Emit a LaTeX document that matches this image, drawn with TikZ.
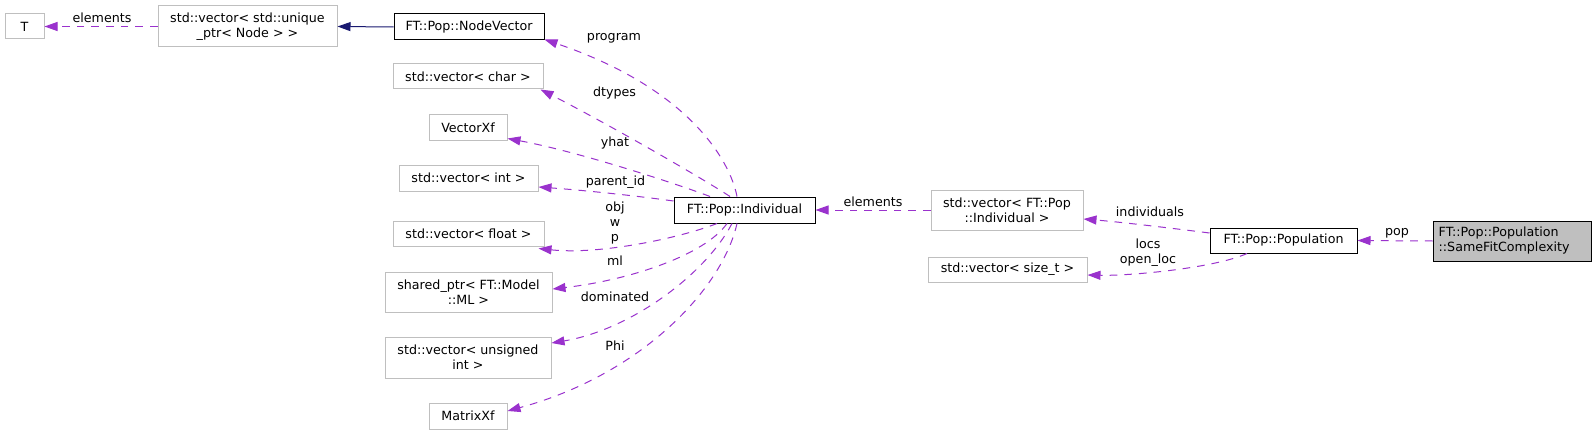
\documentclass[tikz,border=0pt]{standalone}
\usepackage{fontspec}
\setmainfont{DejaVu Sans}
\usetikzlibrary{arrows.meta,calc}
\definecolor{edgepurple}{HTML}{9A32CD}
\definecolor{edgenavy}{HTML}{191970}
\definecolor{boxgray}{HTML}{BFBFBF}
\begin{document}
\begin{tikzpicture}[x=0.75pt,y=-0.75pt,
  font=\fontsize{9.5}{11.25}\selectfont,
  box/.style={draw=boxgray, line width=0.75pt, inner sep=0pt, align=center},
  mainbox/.style={draw=black, line width=0.75pt, inner sep=0pt, align=center},
  edge/.style={draw=edgepurple, line width=0.75pt, dash pattern=on 5.75pt off 5.25pt, -{Triangle[length=9.75pt,width=6.75pt]}, fill=none},
  navyedge/.style={draw=edgenavy, line width=0.75pt, -{Triangle[length=9.75pt,width=6.75pt]}},
  lbl/.style={inner sep=0pt, align=center}]
\useasboundingbox[fill=white] (0,0) rectangle (1596,435);

% nodes
\node[box, minimum width=29.25pt, minimum height=18.75pt] (T) at (24.5,26.5) {T};
\node[box, minimum width=134.25pt, minimum height=30.75pt] (uptr) at (247.5,26.5) {std::vector< std::unique\\\_ptr< Node > >};
\node[mainbox, minimum width=112.5pt, minimum height=19.5pt] (nv) at (469,27) {FT::Pop::NodeVector};
\node[box, minimum width=112.5pt, minimum height=18.75pt] (chr) at (468,76.5) {std::vector< char >};
\node[box, minimum width=58.5pt, minimum height=18.75pt] (vxf) at (468,127.5) {VectorXf};
\node[box, minimum width=104.25pt, minimum height=19.5pt] (vint) at (468.5,178) {std::vector< int >};
\node[box, minimum width=113.25pt, minimum height=18.75pt] (vflt) at (468.5,233.5) {std::vector< float >};
\node[box, minimum width=125.25pt, minimum height=30pt] (sptr) at (468.5,292) {shared\_ptr< FT::Model\\::ML >};
\node[box, minimum width=124.5pt, minimum height=30.75pt] (vuns) at (468,357.5) {std::vector< unsigned\\int >};
\node[box, minimum width=58.5pt, minimum height=19.5pt] (mxf) at (468,416) {MatrixXf};
\node[mainbox, minimum width=105.75pt, minimum height=19.5pt] (ind) at (744.5,210) {FT::Pop::Individual};
\node[box, minimum width=114pt, minimum height=30pt] (vind) at (1007,210) {std::vector< FT::Pop\\::Individual >};
\node[box, minimum width=119.25pt, minimum height=18.75pt] (vsz) at (1007.5,269.5) {std::vector< size\_t >};
\node[mainbox, minimum width=110.25pt, minimum height=18.75pt] (popn) at (1283.5,240.5) {FT::Pop::Population};
\node[mainbox, fill=boxgray, minimum width=118.5pt, minimum height=30pt, align=left, text width=110pt] (sfc) at (1512,241) {FT::Pop::Population\\::SameFitComplexity};

% edges
\draw[edge] (uptr.west) -- (T.east);
\draw[navyedge] (nv.west) -- (uptr.east);
\draw[edge] ($(ind.north)+(-7.5,0)$) .. controls (730,160) and (688,88) .. ($(nv.south east)+(0,-1)$);
\draw[edge] ($(ind.north)+(-14.5,0)$) .. controls (705,180) and (610,125) .. ($(chr.south east)+(-3,0)$);
\draw[edge] ($(ind.north)+(-34.5,0)$) .. controls (680,185) and (580,152) .. ($(vxf.south east)+(0,-2)$);
\draw[edge] ($(ind.west)+(0,-9)$) .. controls (630,195) and (580,190) .. ($(vint.east)+(0,9)$);
\draw[edge] ($(ind.south)+(-27.5,0)$) .. controls (680,238) and (600,255) .. ($(vflt.south east)+(-6,2)$);
\draw[edge] ($(ind.south)+(-17.5,0)$) .. controls (705,255) and (630,280) .. ($(sptr.east)+(0,-3)$);
\draw[edge] ($(ind.south)+(-12.5,0)$) .. controls (705,275) and (630,330) .. ($(vuns.east)+(0,-14.5)$);
\draw[edge] ($(ind.south)+(-7.5,0)$) .. controls (722,290) and (640,375) .. ($(mxf.east)+(0,-5)$);
\draw[edge] (vind.west) -- (ind.east);
\draw[edge] ($(popn.west)+(0,-7.5)$) .. controls (1170,228) and (1120,222) .. ($(vind.east)+(0,9)$);
\draw[edge] ($(popn.south)+(-36.5,0)$) .. controls (1215,268) and (1130,276) .. ($(vsz.east)+(0,5.5)$);
\draw[edge] (sfc.west) -- (popn.east);

% labels
\node[lbl] (l1) at (102,18) {elements};
\node[lbl] (l2) at (614,38) {program};
\node[lbl] (l3) at (614.5,93) {dtypes};
\node[lbl] (l4) at (615,143) {yhat};
\node[lbl] (l5) at (615.5,182) {parent\_id};
\node[lbl] (l6) at (615,223) {obj\\w\\p};
\node[lbl] (l7) at (615,261) {ml};
\node[lbl] (l8) at (615,297) {dominated};
\node[lbl] (l9) at (615,346) {Phi};
\node[lbl] (l10) at (873,202) {elements};
\node[lbl] (l11) at (1150,212) {individuals};
\node[lbl] (l12) at (1148,253) {locs\\open\_loc};
\node[lbl] (l13) at (1397,233) {pop};
\end{tikzpicture}
\end{document}
